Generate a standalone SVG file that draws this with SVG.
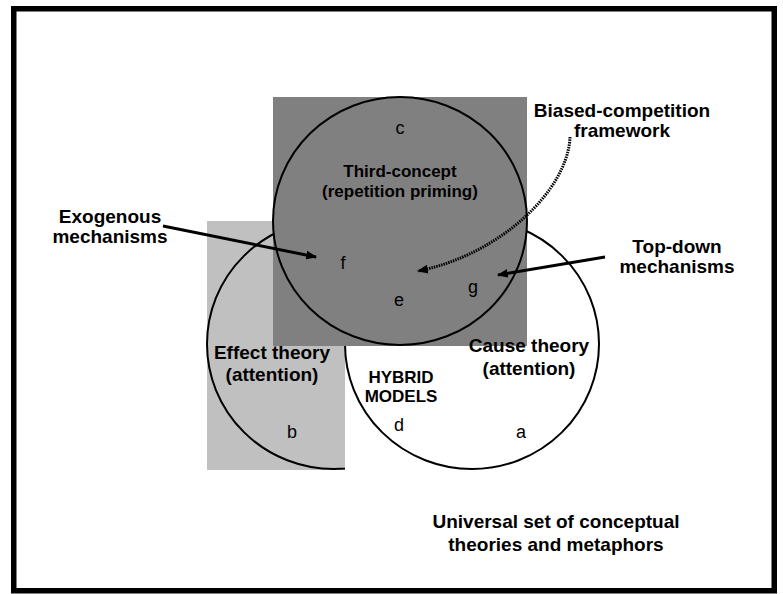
<svg xmlns="http://www.w3.org/2000/svg" width="783" height="594" viewBox="0 0 783 594">
  <style>
    .lbl { font-family: "Liberation Sans", Arial, sans-serif; font-weight: bold; font-size: 19px; fill: #000; text-anchor: middle; }
    .inner { font-family: "Liberation Sans", Arial, sans-serif; font-weight: bold; font-size: 17px; fill: #000; text-anchor: middle; }
    .let { font-family: "Liberation Sans", Arial, sans-serif; font-size: 18px; fill: #000; text-anchor: middle; }
    .ring { stroke: #000; stroke-width: 2; }
    .arrow { fill: none; stroke: #000; stroke-width: 3; }
    .dots { fill: none; stroke: #000; stroke-width: 3; stroke-dasharray: 1.5 1; }
  </style>
  <defs>
    <marker id="head" viewBox="0 0 10 8" refX="9" refY="4" markerWidth="11" markerHeight="9" markerUnits="userSpaceOnUse" orient="auto">
      <path d="M0,0 L10,4 L0,8 Z" fill="#000"/>
    </marker>
    <clipPath id="leftClip">
      <rect x="190" y="200" width="155" height="290"/>
    </clipPath>
  </defs>

  <rect id="frame" x="13.75" y="8.75" width="760.5" height="582" fill="#fff" stroke="#000" stroke-width="5.5"/>

  <g id="effect-theory">
    <rect x="207" y="221" width="138" height="249" fill="#c0c0c0"/>
    <ellipse cx="334" cy="344" rx="127" ry="125" fill="none" class="ring" clip-path="url(#leftClip)"/>
  </g>

  <g id="cause-theory">
    <ellipse cx="472" cy="344" rx="127" ry="125" fill="#fff" class="ring"/>
  </g>

  <g id="third-concept">
    <rect x="273" y="97" width="254" height="249" fill="#808080"/>
    <ellipse cx="400" cy="221" rx="127" ry="124" fill="none" class="ring"/>
  </g>

  <g id="labels">
    <text class="let" x="400" y="134">c</text>
    <text class="inner" x="400" y="177">Third-concept</text>
    <text class="inner" x="400" y="197">(repetition priming)</text>
    <text class="let" x="343" y="269">f</text>
    <text class="let" x="399" y="306">e</text>
    <text class="let" x="473" y="293">g</text>
    <text class="lbl" x="272" y="359">Effect theory</text>
    <text class="lbl" x="272" y="381">(attention)</text>
    <text class="lbl" x="529" y="352">Cause theory</text>
    <text class="lbl" x="529" y="375">(attention)</text>
    <text class="inner" x="401" y="383">HYBRID</text>
    <text class="inner" x="401" y="402">MODELS</text>
    <text class="let" x="292" y="438">b</text>
    <text class="let" x="399" y="431">d</text>
    <text class="let" x="521" y="438">a</text>
  </g>

  <g id="exogenous">
    <text class="lbl" x="110" y="223">Exogenous</text>
    <text class="lbl" x="110" y="243">mechanisms</text>
  </g>
  <g id="top-down">
    <text class="lbl" x="677" y="253">Top-down</text>
    <text class="lbl" x="677" y="273">mechanisms</text>
  </g>
  <g id="biased-competition">
    <text class="lbl" x="622" y="117">Biased-competition</text>
    <text class="lbl" x="622" y="137">framework</text>
  </g>
  <g id="universal-set">
    <text class="lbl" x="556" y="528">Universal set of conceptual</text>
    <text class="lbl" x="556" y="551">theories and metaphors</text>
  </g>

  <g id="connectors">
    <line class="arrow" x1="163" y1="226" x2="316" y2="257" marker-end="url(#head)"/>
    <line class="arrow" x1="605" y1="257" x2="498" y2="275" marker-end="url(#head)"/>
    <path class="dots" d="M570,137 C568,190 500,255 418,271" marker-end="url(#head)"/>
  </g>
</svg>
